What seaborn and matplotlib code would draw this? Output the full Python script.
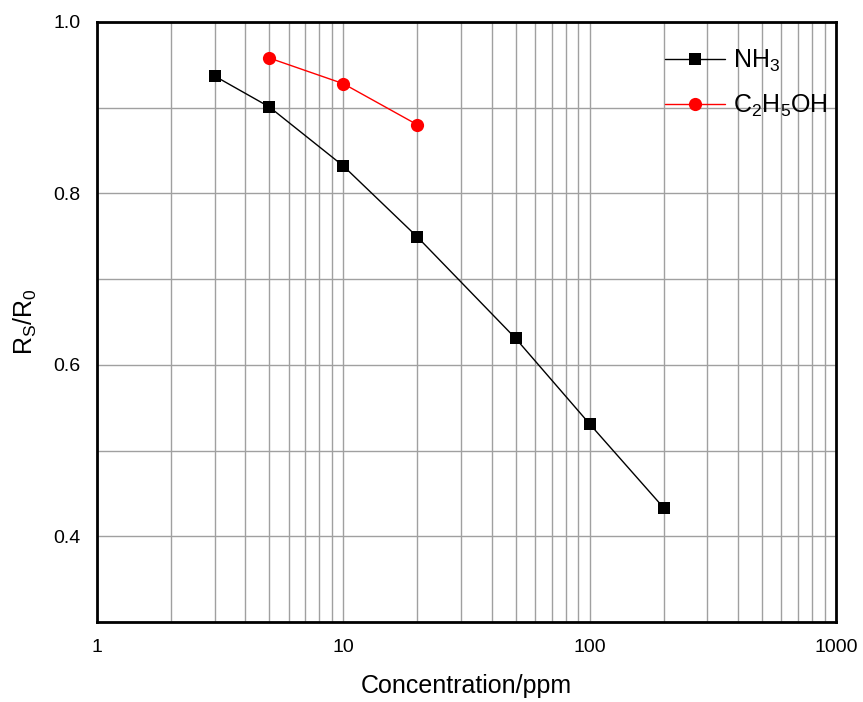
import numpy as np
import pandas as pd
import matplotlib
matplotlib.use("Agg")
import matplotlib.pyplot as plt
import seaborn as sns
from matplotlib.ticker import LogLocator, MultipleLocator, FixedLocator, NullFormatter

# ข้อมูลที่อ่านจากภาพ
nh3_conc = [3, 5, 10, 20, 50, 100, 200]
nh3_ratio = [0.937, 0.901, 0.832, 0.749, 0.631, 0.531, 0.433]
eth_conc = [5, 10, 20]
eth_ratio = [0.958, 0.928, 0.880]
x_ticks = [1, 10, 100, 1000]
y_ticks = [0.4, 0.6, 0.8, 1.0]

sns.set_style("white")
plt.rcParams["font.family"] = ["Liberation Sans", "DejaVu Sans"]
plt.rcParams["mathtext.fontset"] = "custom"
plt.rcParams["mathtext.rm"] = "Liberation Sans"
plt.rcParams["text.color"] = "black"
plt.rcParams["axes.labelcolor"] = "black"
plt.rcParams["xtick.color"] = "black"
plt.rcParams["ytick.color"] = "black"

df_nh3 = pd.DataFrame({"x": nh3_conc, "y": nh3_ratio})
df_eth = pd.DataFrame({"x": eth_conc, "y": eth_ratio})

fig = plt.figure(figsize=(8.63, 7.02), dpi=100)
ax = fig.add_axes([0.1124, 0.114, 0.8563, 0.8547])

sns.lineplot(data=df_nh3, x="x", y="y", ax=ax, color="black", marker="s",
             markersize=9, linewidth=1, markeredgewidth=0,
             label=r"$\mathregular{NH_3}$")
sns.lineplot(data=df_eth, x="x", y="y", ax=ax, color="red", marker="o",
             markersize=9.5, linewidth=1, markeredgewidth=0,
             label=r"$\mathregular{C_2H_5OH}$")

ax.set_xscale("log")
ax.set_xlim(1, 1000)
ax.set_ylim(0.3, 1.0)
ax.xaxis.set_major_locator(FixedLocator(x_ticks))
ax.set_xticklabels([str(t) for t in x_ticks])
ax.xaxis.set_minor_locator(LogLocator(base=10, subs=np.arange(2, 10)))
ax.xaxis.set_minor_formatter(NullFormatter())
ax.yaxis.set_major_locator(FixedLocator(y_ticks))
ax.set_yticklabels([f"{t:.1f}" for t in y_ticks])
ax.yaxis.set_minor_locator(MultipleLocator(0.1))

ax.grid(True, which="both", color="#a0a0a0", linewidth=1)
ax.tick_params(which="major", direction="in", length=6, width=1.5,
               labelsize=14, pad=12)
ax.tick_params(which="minor", direction="in", length=4, width=1)
for s in ax.spines.values():
    s.set_visible(True)
    s.set_linewidth(2)
    s.set_color("black")

ax.set_xlabel("Concentration/ppm", fontsize=18, labelpad=13)
ax.set_ylabel(r"$\mathregular{R_S/R_0}$", fontsize=18, labelpad=10)

ax.legend(loc="upper right", frameon=False, fontsize=18, handlelength=2.4,
          borderaxespad=0.5, labelspacing=0.75, handletextpad=0.35,
          bbox_to_anchor=(1.02, 0.995))

fig.savefig("out.png", dpi=100)
